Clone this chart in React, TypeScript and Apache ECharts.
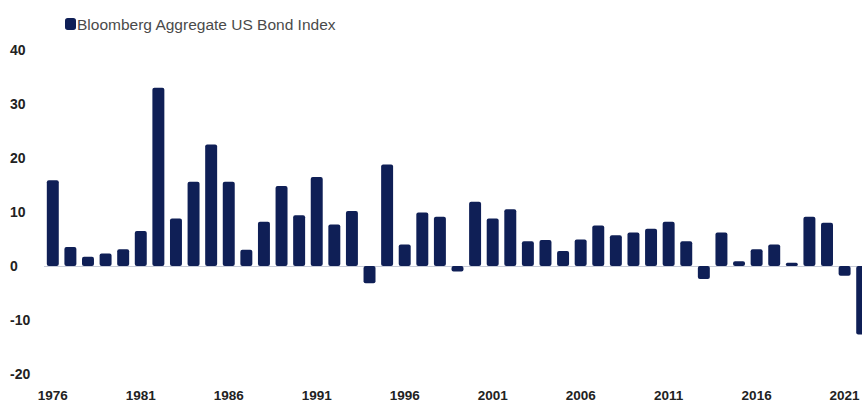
import React, { useEffect, useRef } from "react";
import * as echarts from "echarts";

const years: string[] = [];
for (let y = 1976; y <= 2022; y++) years.push(String(y));

const seriesName = "Bloomberg Aggregate US Bond Index";
const returns = [
  15.9, 3.5, 1.7, 2.3, 3.1, 6.5, 33.0, 8.8, 15.6, 22.5,
  15.6, 3.0, 8.2, 14.8, 9.4, 16.5, 7.7, 10.2, -3.2, 18.8,
  4.0, 9.9, 9.1, -1.0, 11.9, 8.8, 10.5, 4.6, 4.8, 2.8,
  4.9, 7.5, 5.7, 6.2, 6.9, 8.2, 4.6, -2.4, 6.2, 0.9,
  3.1, 4.0, 0.6, 9.1, 8.0, -1.8, -12.7,
];
const yTicks = { min: -20, max: 40, interval: 10 };

const FONT = "Liberation Sans, Arial, sans-serif";

export default function App() {
  const ref = useRef<HTMLDivElement>(null);
  useEffect(() => {
    if (!ref.current) return;
    const chart = echarts.init(ref.current, null, { renderer: "svg" });
    chart.setOption({
      animation: false,
      backgroundColor: "#ffffff",
      legend: {
        data: [seriesName],
        left: 60,
        top: 11,
        icon: "roundRect",
        itemWidth: 11,
        itemHeight: 12,
        itemGap: 4,
        textStyle: { color: "#4a4a4a", fontSize: 15.5, fontFamily: FONT, padding: [0, 0, 0, -4] },
      },
      grid: { left: 44, right: 0, top: 50, bottom: 28, containLabel: false },
      xAxis: {
        type: "category",
        data: years,
        position: "bottom",
        axisLine: { show: false },
        axisTick: { show: false },
        axisLabel: {
          interval: 4,
          color: "#222",
          fontWeight: "bold",
          fontSize: 13.5,
          fontFamily: FONT,
          margin: 14,
        },
      },
      yAxis: {
        type: "value",
        min: yTicks.min,
        max: yTicks.max,
        interval: yTicks.interval,
        splitLine: { show: false },
        axisLine: { show: false },
        axisTick: { show: false },
        axisLabel: {
          align: "left",
          margin: 34,
          color: "#222",
          fontWeight: "bold",
          fontSize: 14,
          fontFamily: FONT,
        },
      },
      series: [
        {
          name: seriesName,
          type: "bar",
          data: returns,
          barWidth: "68%",
          itemStyle: { color: "#0f1f56", borderRadius: 2 },
          markLine: {
            silent: true,
            symbol: "none",
            label: { show: false },
            lineStyle: { color: "#c8ccd8", type: "solid", width: 1 },
            data: [{ yAxis: 0 }],
            z: 1,
          },
        },
      ],
    });
    return () => chart.dispose();
  }, []);
  return (
    <div style={{ width: 862, height: 402, position: "absolute", left: 0, top: 0, overflow: "hidden" }}>
      <div ref={ref} style={{ width: 871, height: 402 }} />
    </div>
  );
}
